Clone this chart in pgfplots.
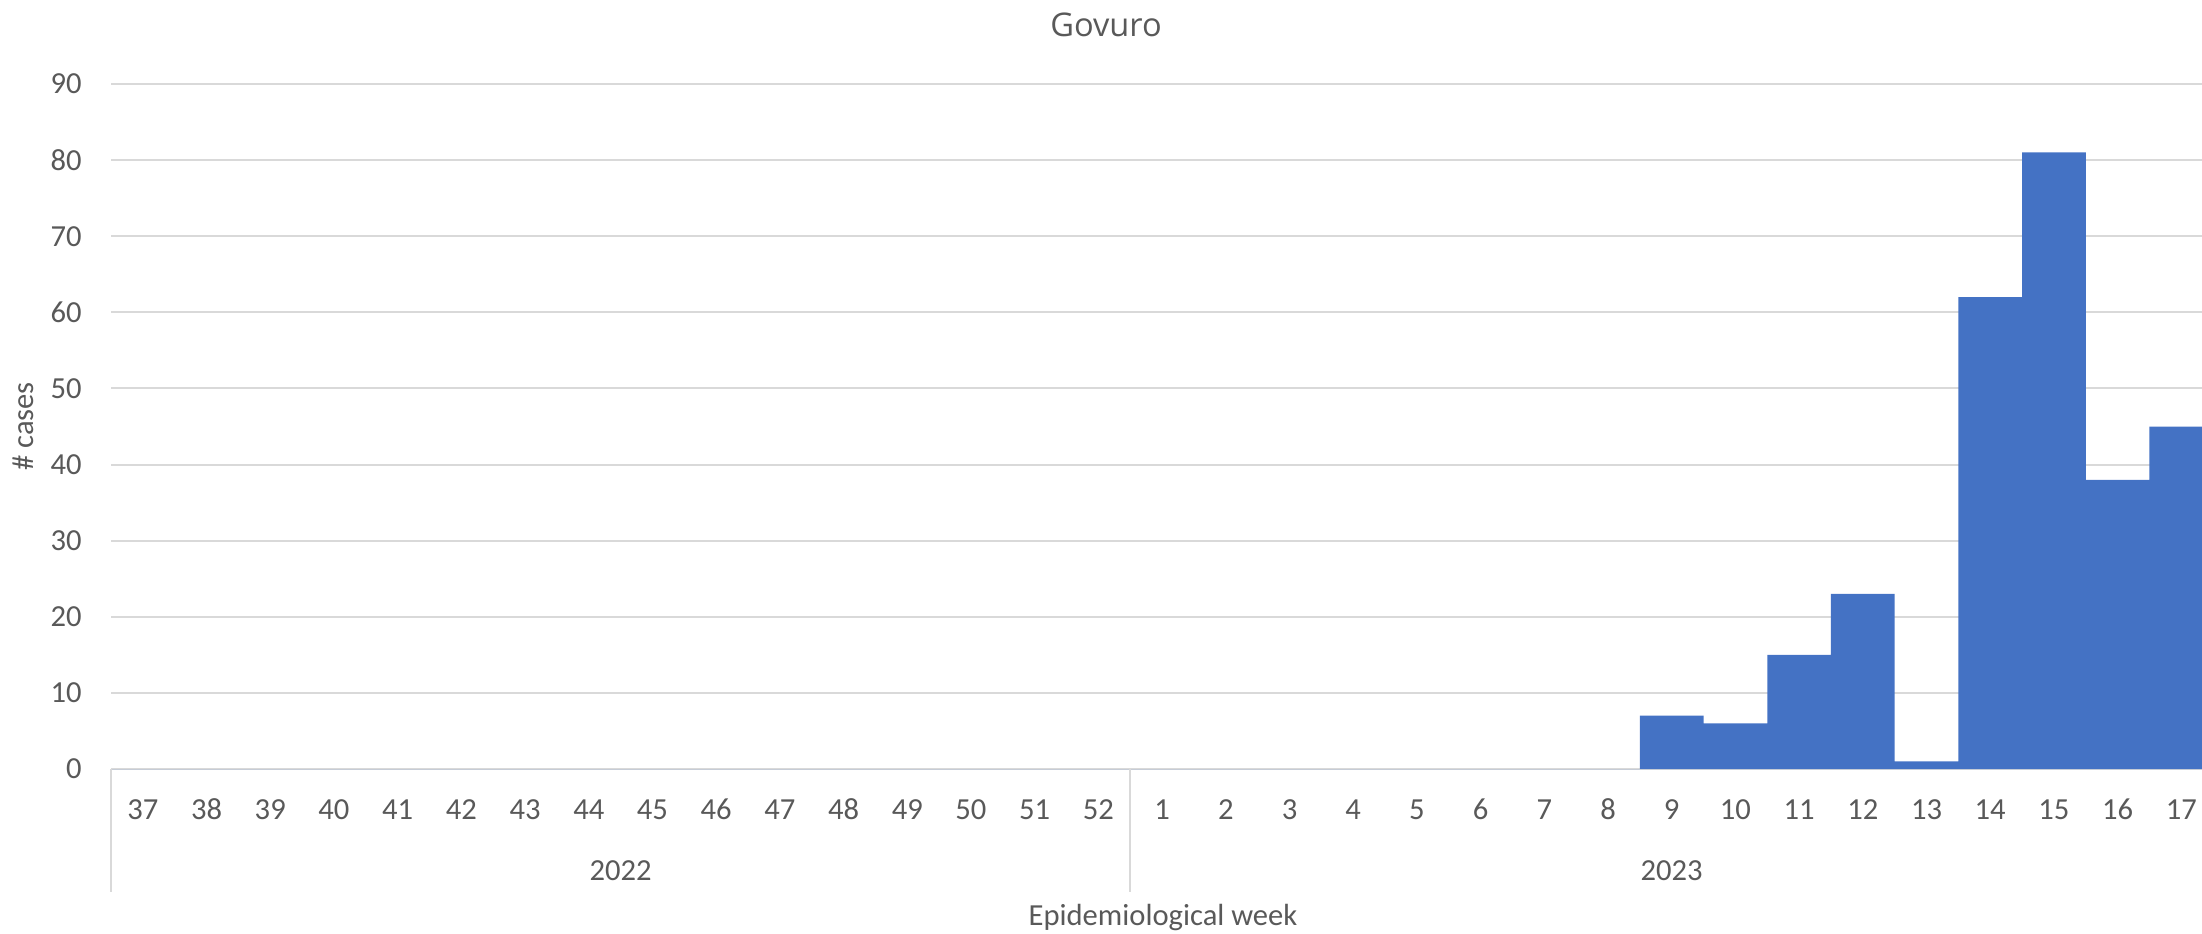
\documentclass[border=0pt]{standalone}
\usepackage{fontspec}
\setmainfont{Carlito}
\newfontfamily\titlefont{Open Sans}
\usepackage{pgfplots}
\pgfplotsset{compat=1.18}
\definecolor{barblue}{HTML}{4472C4}
\definecolor{gridgray}{HTML}{D9D9D9}
\definecolor{txtgray}{HTML}{595959}
\begin{document}
\begin{tikzpicture}
\useasboundingbox (0,0) rectangle (1101pt,466.5pt);
\begin{axis}[
  at={(55.5pt,82pt)}, anchor=south west,
  scale only axis, width=1045.5pt, height=342.5pt,
  xmin=-0.5, xmax=32.326, ymin=0, ymax=90,
  enlargelimits=false,
  axis line style={draw=none},
  ytick={0,10,...,90},
  ymajorgrids, grid style={gridgray, line width=1pt},
  major tick length=0pt,
  xtick={0,...,32},
  xticklabels={37,38,39,40,41,42,43,44,45,46,47,48,49,50,51,52,1,2,3,4,5,6,7,8,9,10,11,12,13,14,15,16,17},
  xticklabel style={anchor=base, yshift=-25pt, inner sep=0pt},
  yticklabel style={anchor=east, inner sep=0pt, xshift=-14.5pt},
  /pgf/number format/assume math mode=true,
  tick label style={font=\fontsize{15.3}{18}\selectfont, text=txtgray},
  ylabel={\# cases},
  every axis y label/.style={at={(axis description cs:0,0.5)}, xshift=-44pt, rotate=90, anchor=center, font=\fontsize{15.3}{18}\selectfont, text=txtgray},
]
\addplot[ybar, bar width=1, fill=barblue, draw=none] coordinates {
(0,0) (1,0) (2,0) (3,0) (4,0) (5,0) (6,0) (7,0) (8,0) (9,0) (10,0) (11,0) (12,0) (13,0) (14,0) (15,0)
(16,0) (17,0) (18,0) (19,0) (20,0) (21,0) (22,0) (23,0)
(24,7) (25,6) (26,15) (27,23) (28,1) (29,62) (30,81) (31,38) (32,45)
};
\coordinate (s0) at (axis cs:-0.5,0);
\coordinate (s1) at (axis cs:15.5,0);
\coordinate (y22) at (axis cs:7.5,0);
\coordinate (y23) at (axis cs:24,0);
\end{axis}
\draw[gridgray, line width=1pt] (s0) -- ++(0,-61.5pt);
\draw[gridgray, line width=1pt] (s1) -- ++(0,-61.5pt);
\node[anchor=base, inner sep=0pt, text=txtgray, font=\fontsize{15.3}{18}\selectfont] at ([yshift=-55.5pt]y22) {2022};
\node[anchor=base, inner sep=0pt, text=txtgray, font=\fontsize{15.3}{18}\selectfont] at ([yshift=-55.5pt]y23) {2023};
\node[anchor=base, inner sep=0pt, text=txtgray, font=\fontsize{15.3}{18}\selectfont] at (581.5pt,4pt) {Epidemiological week};
\node[anchor=base, inner sep=0pt, text=txtgray, font=\titlefont\fontsize{16.3}{19}\selectfont] at (553pt,448pt) {Govuro};
\end{tikzpicture}
\end{document}
